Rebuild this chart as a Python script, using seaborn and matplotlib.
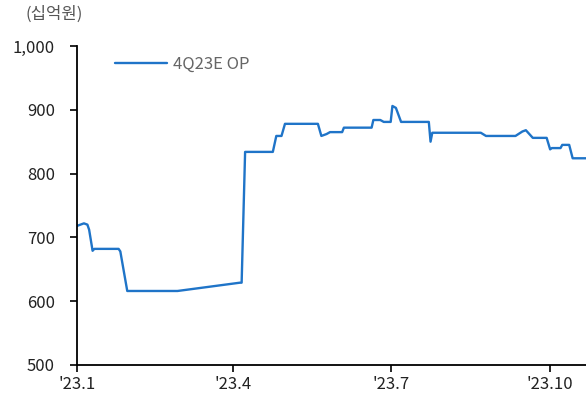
import matplotlib
matplotlib.use("Agg")
import matplotlib.pyplot as plt
import pandas as pd
import seaborn as sns

# 4Q23E operating profit consensus (KRW bn)
dates = [
    "2023-01-01", "2023-01-05", "2023-01-07", "2023-01-08", "2023-01-10", "2023-01-11",
    "2023-01-25", "2023-01-26", "2023-01-30", "2023-02-28", "2023-04-05", "2023-04-06",
    "2023-04-08", "2023-04-24", "2023-04-26", "2023-04-29", "2023-05-01", "2023-05-20",
    "2023-05-22", "2023-05-25", "2023-05-27", "2023-06-03", "2023-06-04", "2023-06-20",
    "2023-06-21", "2023-06-25", "2023-06-27", "2023-07-01", "2023-07-02", "2023-07-04",
    "2023-07-07", "2023-07-23", "2023-07-24", "2023-07-25", "2023-08-22", "2023-08-25",
    "2023-09-11", "2023-09-15", "2023-09-17", "2023-09-21", "2023-09-29", "2023-10-01",
    "2023-10-02", "2023-10-07", "2023-10-08", "2023-10-12", "2023-10-14", "2023-10-22",
]
op = [
    718, 722, 720, 712, 679, 682,
    682, 678, 616, 616, 629, 629,
    834, 834, 859, 859, 878, 878,
    859, 862, 865, 865, 872, 872,
    884, 884, 881, 881, 906, 903,
    881, 881, 850, 864, 864, 859,
    859, 866, 868, 856, 856, 838,
    840, 840, 845, 845, 824, 824,
]
y_ticks = [500, 600, 700, 800, 900, 1000]
x_ticks = ["2023-01-01", "2023-04-01", "2023-07-01", "2023-10-01"]
x_tick_labels = ["'23.1", "'23.4", "'23.7", "'23.10"]
series_name = "4Q23E OP"
unit_label = "(십억원)"

df = pd.DataFrame({"date": pd.to_datetime(dates), "op": op, "series": series_name})

sns.set_style("ticks")
plt.rcParams["font.family"] = ["Noto Sans CJK KR", "DejaVu Sans"]

fig = plt.figure(figsize=(5.86, 4.01), dpi=100)
ax = fig.add_axes([0.1314, 0.0898, 0.8686, 0.7955])

sns.lineplot(data=df, x="date", y="op", hue="series", palette=["#1f74c8"],
             linewidth=1.7, ax=ax)

ax.set_ylim(500, 1000)
ax.set_yticks(y_ticks)
ax.set_yticklabels([f"{v:,}" for v in y_ticks])
ax.set_xlim(pd.Timestamp("2023-01-01"), pd.Timestamp("2023-01-01") + pd.Timedelta(days=293.7))
ax.set_xticks(pd.to_datetime(x_ticks))
ax.set_xticklabels(x_tick_labels)

ax.set_xlabel("")
ax.set_ylabel("")
for side in ("top", "right"):
    ax.spines[side].set_visible(False)
for side in ("left", "bottom"):
    ax.spines[side].set_color("black")
    ax.spines[side].set_linewidth(1.3)
ax.tick_params(axis="both", direction="out", length=5, width=1.2, colors="black",
               labelsize=12, labelcolor="#222222")
ax.tick_params(axis="y", pad=11)
ax.tick_params(axis="x", pad=3)

leg = ax.legend(loc="center left", bbox_to_anchor=(0.0747, 0.9436), frameon=False,
                borderaxespad=0, borderpad=0, handlelength=3.1, fontsize=12,
                handletextpad=0.35)
for t in leg.get_texts():
    t.set_color("#666666")

fig.text(0.044, 0.965, unit_label, fontsize=12, color="#555555", va="center", ha="left")

fig.savefig("out.png", dpi=100)
